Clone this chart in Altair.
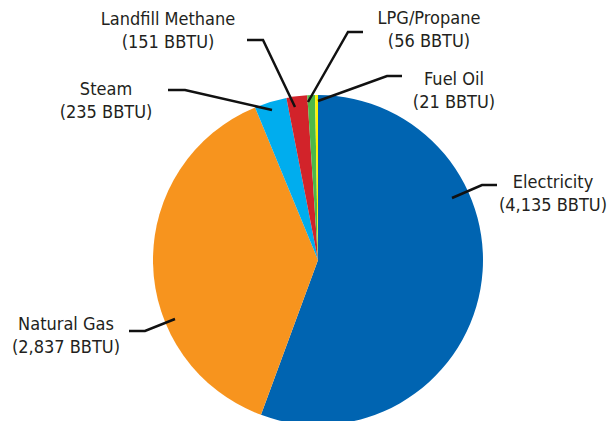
import altair as alt
import pandas as pd

# Data
categories = ["Electricity", "Natural Gas", "Steam", "Landfill Methane", "LPG/Propane", "Fuel Oil"]
values = [4135, 2837, 235, 151, 56, 21]
colors = ["#0064B1", "#F7941E", "#00ADEE", "#D2232A", "#4DB848", "#FFF200"]

# Layout of annotations (page pixels)
label_x = [553, 66, 106, 168, 429, 454]
label_y = [183, 325, 90, 20, 19, 80]
leader_x = [[452, 482, 497], [175, 145, 129], [272, 185, 168], [295, 263, 247], [308, 348, 363], [318, 387, 402]]
leader_y = [[198, 185, 185], [319, 331, 331], [110, 90, 90], [107, 40, 40], [102, 32, 32], [101, 76, 76]]

pie_df = pd.DataFrame({"cat": categories, "val": values, "order": list(range(len(categories)))})

text_rows = []
for c, v, lx, ly in zip(categories, values, label_x, label_y):
    text_rows.append({"t": c, "x": lx, "y": ly})
    text_rows.append({"t": f"({v:,} BBTU)", "x": lx, "y": ly + 23})
text_df = pd.DataFrame(text_rows)

line_rows = []
for c, xs, ys in zip(categories, leader_x, leader_y):
    for i, (px, py) in enumerate(zip(xs, ys)):
        line_rows.append({"cat": c, "i": i, "x": px, "y": py})
line_df = pd.DataFrame(line_rows)

W, H = 600, 413
xs = alt.Scale(domain=[8, 8 + W], range=[0, W], nice=False, zero=False)
ys = alt.Scale(domain=[8, 8 + H], range=[0, H], nice=False, zero=False)

pie = alt.Chart(pie_df).mark_arc(stroke=None).encode(
    theta=alt.Theta("val:Q", stack=True),
    color=alt.Color("cat:N", scale=alt.Scale(domain=categories, range=colors), legend=None),
    order=alt.Order("order:Q"),
    x=alt.value(318 - 8),
    y=alt.value(260 - 8),
    radius=alt.value(165),
)

lines = alt.Chart(line_df).mark_line(color="#111111", strokeWidth=2.5).encode(
    x=alt.X("x:Q", scale=xs, axis=None),
    y=alt.Y("y:Q", scale=ys, axis=None),
    detail="cat:N",
    order="i:Q",
)

texts = alt.Chart(text_df).mark_text(
    font="DejaVu Sans Condensed, sans-serif",
    fontSize=18, color="#231F20", align="center", baseline="middle",
).encode(
    x=alt.X("x:Q", scale=xs, axis=None),
    y=alt.Y("y:Q", scale=ys, axis=None),
    text="t:N",
)

chart = alt.layer(pie, lines, texts).resolve_scale(color="independent").properties(
    width=W, height=H, padding=0, autosize=alt.AutoSizeParams(type="none")
).configure_view(stroke=None)

chart.save("out.html", embed_options={"renderer": "svg", "actions": False})
